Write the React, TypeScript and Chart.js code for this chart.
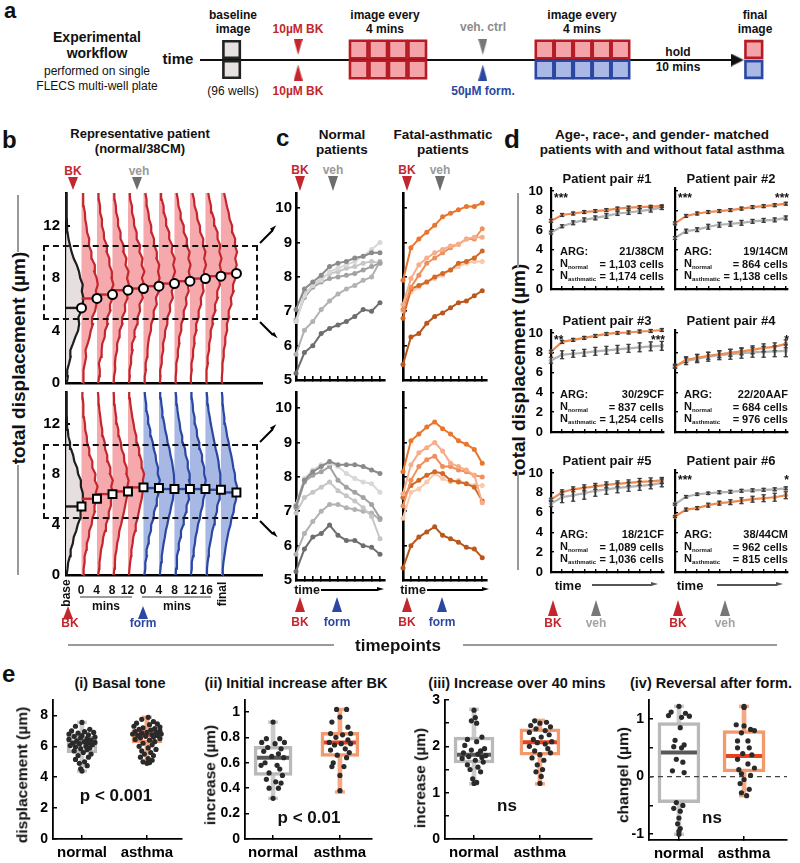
import React, { useEffect, useRef } from "react";
import { Chart, registerables } from "chart.js";

Chart.register(...registerables);

const FONT = 'Arial, "Liberation Sans", Helvetica, sans-serif';
Chart.defaults.font.family = FONT;
Chart.defaults.color = "#111";

/* ======================= DATA ======================= */

// (a) workflow schedule, in imaging-slot units along the plate timeline
const TIMELINE_SPAN = [0, 27.3];
const TIMELINE_TIP = [27.55];
const BASELINE_SLOTS = [1.62];
const BK_SLOTS = [5.03];
const BK_IMAGE_SLOTS = [8.14, 9.14, 10.14, 11.14];
const TREAT_SLOTS = [14.5];
const TREAT_IMAGE_SLOTS = [17.67, 18.64, 19.62, 20.59, 21.56];
const FINAL_SLOTS = [28.4];
const WELL_ROWS = [1.05, -0.95];
const MARKER_ROWS = [1.3, -1.25];

// (b) single patient displacement histograms (µm bins) and means per timepoint
const HIST_BINS = [0, 0.5, 1, 1.5, 2, 2.5, 3, 3.5, 4, 4.5, 5, 5.5, 6, 6.5, 7, 7.5, 8, 8.5, 9, 9.5, 10, 10.5, 11, 11.5, 12, 12.5, 13, 13.5, 14, 14.5];
const B_TOP_MEANS = [5.73, 6.45, 6.75, 7.08, 7.21, 7.39, 7.59, 7.77, 7.97, 8.15, 8.36];
const B_BOT_MEANS = [5.43, 6.04, 6.41, 6.62, 6.94, 6.89, 6.81, 6.81, 6.81, 6.75, 6.54];
const B_TOP_PHASES = ["base", "bk", "bk", "bk", "bk", "bk", "bk", "bk", "bk", "bk", "bk"];
const B_BOT_PHASES = ["base", "bk", "bk", "bk", "bk", "form", "form", "form", "form", "form", "form"];
const B_TOP_HIST = [
  [0.05, 0.12, 0.08, 0.2, 0.3, 0.28, 0.45, 0.6, 0.78, 0.85, 0.8, 0.98, 1.08, 1.12, 1.02, 1.08, 0.92, 0.84, 0.7, 0.5, 0.36, 0.26, 0.16, 0.1, 0.07, 0.05, 0.03, 0.02, 0.02, 0.01],
  [0.1, 0.16, 0.1, 0.22, 0.3, 0.26, 0.4, 0.52, 0.6, 0.74, 0.68, 0.88, 0.96, 1.1, 0.92, 1.05, 0.98, 0.82, 0.86, 0.66, 0.64, 0.48, 0.5, 0.36, 0.32, 0.24, 0.22, 0.14, 0.12, 0.1],
  [0.08, 0.14, 0.18, 0.12, 0.26, 0.3, 0.34, 0.5, 0.52, 0.7, 0.66, 0.86, 0.84, 1.02, 0.9, 1.06, 0.94, 0.96, 0.8, 0.8, 0.62, 0.64, 0.46, 0.44, 0.32, 0.32, 0.2, 0.2, 0.12, 0.1],
  [0.08, 0.1, 0.18, 0.16, 0.2, 0.3, 0.3, 0.44, 0.46, 0.64, 0.62, 0.82, 0.8, 0.98, 0.86, 1.06, 0.94, 1.04, 0.84, 0.9, 0.7, 0.72, 0.52, 0.52, 0.36, 0.36, 0.24, 0.22, 0.14, 0.12],
  [0.06, 0.12, 0.1, 0.2, 0.2, 0.3, 0.26, 0.44, 0.42, 0.6, 0.62, 0.78, 0.74, 0.96, 0.86, 1.04, 0.9, 1.06, 0.88, 0.94, 0.74, 0.78, 0.56, 0.56, 0.4, 0.38, 0.26, 0.26, 0.14, 0.12],
  [0.06, 0.08, 0.16, 0.14, 0.24, 0.26, 0.3, 0.36, 0.48, 0.5, 0.66, 0.66, 0.86, 0.8, 1.0, 0.9, 1.04, 0.94, 1.02, 0.84, 0.86, 0.7, 0.68, 0.52, 0.5, 0.36, 0.32, 0.22, 0.2, 0.12],
  [0.06, 0.1, 0.08, 0.18, 0.18, 0.28, 0.26, 0.38, 0.4, 0.54, 0.54, 0.72, 0.7, 0.9, 0.82, 1.0, 0.9, 1.04, 0.92, 1.02, 0.82, 0.86, 0.66, 0.66, 0.48, 0.46, 0.32, 0.3, 0.18, 0.14],
  [0.05, 0.08, 0.12, 0.12, 0.22, 0.22, 0.32, 0.3, 0.44, 0.44, 0.6, 0.6, 0.78, 0.74, 0.92, 0.86, 1.02, 0.92, 1.04, 0.9, 0.98, 0.78, 0.8, 0.6, 0.6, 0.42, 0.4, 0.26, 0.22, 0.14],
  [0.05, 0.06, 0.12, 0.1, 0.2, 0.2, 0.3, 0.28, 0.42, 0.4, 0.56, 0.56, 0.72, 0.7, 0.88, 0.82, 0.98, 0.9, 1.04, 0.92, 1.0, 0.84, 0.86, 0.66, 0.64, 0.48, 0.44, 0.3, 0.26, 0.16],
  [0.04, 0.08, 0.06, 0.16, 0.14, 0.24, 0.24, 0.34, 0.34, 0.48, 0.46, 0.64, 0.62, 0.8, 0.76, 0.94, 0.86, 1.02, 0.92, 1.04, 0.9, 0.96, 0.78, 0.78, 0.6, 0.56, 0.42, 0.36, 0.26, 0.18],
  [0.04, 0.06, 0.1, 0.1, 0.18, 0.18, 0.28, 0.28, 0.4, 0.38, 0.52, 0.5, 0.68, 0.64, 0.82, 0.78, 0.94, 0.88, 1.02, 0.92, 1.04, 0.9, 0.92, 0.74, 0.72, 0.56, 0.5, 0.38, 0.3, 0.2],
];
const B_BOT_HIST = [
  [0.04, 0.1, 0.14, 0.26, 0.3, 0.44, 0.5, 0.66, 0.76, 0.92, 0.94, 1.12, 1.1, 1.08, 0.96, 0.96, 0.78, 0.72, 0.54, 0.46, 0.32, 0.26, 0.15, 0.12, 0.07, 0.05, 0.04, 0.03, 0.02, 0.01],
  [0.1, 0.14, 0.2, 0.2, 0.32, 0.34, 0.48, 0.5, 0.66, 0.7, 0.86, 0.84, 1.02, 0.92, 1.04, 0.86, 0.9, 0.7, 0.7, 0.52, 0.5, 0.36, 0.34, 0.24, 0.22, 0.16, 0.14, 0.1, 0.08, 0.06],
  [0.08, 0.14, 0.16, 0.22, 0.26, 0.36, 0.4, 0.52, 0.58, 0.72, 0.76, 0.9, 0.9, 1.04, 0.92, 1.02, 0.84, 0.86, 0.7, 0.66, 0.52, 0.5, 0.38, 0.34, 0.26, 0.22, 0.16, 0.12, 0.1, 0.06],
  [0.08, 0.12, 0.16, 0.18, 0.26, 0.3, 0.4, 0.44, 0.56, 0.64, 0.74, 0.82, 0.9, 0.98, 0.96, 1.04, 0.9, 0.92, 0.76, 0.74, 0.58, 0.54, 0.42, 0.38, 0.28, 0.24, 0.18, 0.14, 0.1, 0.08],
  [0.06, 0.1, 0.14, 0.2, 0.22, 0.3, 0.34, 0.46, 0.5, 0.62, 0.7, 0.78, 0.88, 0.94, 1.0, 0.96, 1.04, 0.9, 0.88, 0.76, 0.72, 0.58, 0.54, 0.42, 0.36, 0.28, 0.22, 0.16, 0.12, 0.08],
  [0.06, 0.12, 0.12, 0.22, 0.2, 0.32, 0.34, 0.48, 0.5, 0.66, 0.68, 0.82, 0.86, 0.98, 0.94, 1.06, 0.92, 0.94, 0.82, 0.78, 0.66, 0.6, 0.48, 0.44, 0.32, 0.3, 0.2, 0.18, 0.12, 0.08],
  [0.06, 0.1, 0.14, 0.18, 0.24, 0.3, 0.38, 0.44, 0.54, 0.62, 0.72, 0.8, 0.9, 0.94, 1.0, 0.98, 0.96, 0.9, 0.84, 0.74, 0.68, 0.56, 0.5, 0.4, 0.34, 0.26, 0.22, 0.16, 0.12, 0.08],
  [0.08, 0.1, 0.16, 0.16, 0.26, 0.28, 0.4, 0.42, 0.58, 0.6, 0.76, 0.78, 0.94, 0.9, 1.04, 0.94, 0.98, 0.86, 0.86, 0.72, 0.68, 0.54, 0.5, 0.38, 0.34, 0.26, 0.2, 0.16, 0.12, 0.08],
  [0.06, 0.12, 0.12, 0.2, 0.24, 0.32, 0.36, 0.46, 0.52, 0.64, 0.7, 0.82, 0.86, 0.98, 0.94, 1.02, 0.92, 0.92, 0.8, 0.78, 0.64, 0.6, 0.46, 0.44, 0.32, 0.3, 0.2, 0.18, 0.12, 0.1],
  [0.08, 0.1, 0.14, 0.2, 0.22, 0.3, 0.38, 0.44, 0.56, 0.6, 0.74, 0.76, 0.9, 0.92, 1.0, 0.96, 0.96, 0.88, 0.84, 0.76, 0.66, 0.58, 0.5, 0.42, 0.34, 0.28, 0.2, 0.16, 0.12, 0.08],
  [0.08, 0.12, 0.16, 0.22, 0.28, 0.34, 0.42, 0.5, 0.62, 0.68, 0.82, 0.86, 0.98, 0.96, 1.04, 0.92, 0.9, 0.8, 0.74, 0.66, 0.56, 0.5, 0.4, 0.34, 0.26, 0.22, 0.16, 0.12, 0.1, 0.06],
];
const B_TICK_LABELS_BK = ["0", "4", "8", "12"];
const B_TICK_LABELS_TREAT = ["0", "4", "8", "12", "16"];

// (c) per-patient mean displacement over 11 timepoints
const TIMEPOINTS = [0, 1, 2, 3, 4, 5, 6, 7, 8, 9, 10];
const C_NORMAL_VEH = [
  [7.05, 7.65, 7.85, 8.05, 8.3, 8.4, 8.45, 8.55, 8.6, 8.7, 8.7],
  [6.7, 7.45, 7.75, 7.9, 8.15, 8.25, 8.35, 8.45, 8.6, 8.8, 9.0],
  [6.75, 7.4, 7.7, 7.85, 7.95, 8.0, 8.05, 8.1, 8.2, 8.3, 8.4],
  [6.7, 7.5, 7.75, 7.95, 8.1, 8.15, 8.25, 8.3, 8.4, 8.45, 8.4],
  [5.75, 6.45, 6.7, 7.05, 7.3, 7.5, 7.65, 7.75, 7.9, 8.0, 8.45],
  [5.2, 5.8, 6.0, 6.35, 6.5, 6.6, 6.7, 6.85, 7.05, 7.0, 7.25],
];
const C_ASTH_VEH = [
  [7.9, 8.85, 9.1, 9.3, 9.5, 9.75, 9.85, 9.95, 10.05, 10.05, 10.15],
  [7.2, 7.95, 8.35, 8.55, 8.7, 8.8, 8.9, 8.95, 9.1, 9.15, 9.15],
  [7.05, 7.7, 8.05, 8.4, 8.55, 8.7, 8.85, 8.95, 9.1, 9.1, 9.4],
  [6.8, 7.65, 7.75, 7.85, 8.0, 8.1, 8.2, 8.4, 8.45, 8.55, 8.75],
  [7.0, 7.55, 7.7, 7.85, 7.95, 8.05, 8.2, 8.3, 8.4, 8.45, 8.45],
  [5.45, 6.25, 6.35, 6.65, 6.85, 6.95, 7.1, 7.25, 7.3, 7.45, 7.6],
];
const C_NORMAL_FORM = [
  [7.15, 7.9, 8.15, 8.3, 8.45, 8.35, 8.35, 8.35, 8.3, 8.2, 8.1],
  [7.2, 7.95, 8.2, 8.35, 8.4, 8.3, 8.1, 7.95, 7.85, 7.8, 7.55],
  [7.1, 7.85, 8.05, 8.15, 8.3, 7.9, 7.7, 7.55, 7.4, 7.2, 6.8],
  [6.95, 7.4, 7.55, 7.7, 7.85, 7.6, 7.45, 7.3, 7.1, 6.85, 6.2],
  [5.75, 6.35, 6.7, 7.0, 7.2, 7.2, 7.1, 7.05, 7.0, 6.95, 6.75],
  [5.25, 5.9, 6.25, 6.35, 6.6, 6.3, 6.15, 6.15, 6.0, 5.95, 5.75],
];
const C_ASTH_FORM = [
  [8.15, 9.05, 9.25, 9.45, 9.6, 9.4, 9.25, 9.05, 8.95, 8.8, 8.4],
  [7.5, 8.35, 8.7, 8.85, 9.0, 8.75, 8.4, 8.3, 8.2, 8.05, 7.25],
  [7.15, 7.9, 8.3, 8.5, 8.6, 8.3, 8.3, 8.2, 8.15, 8.05, 8.0],
  [7.4, 7.75, 7.9, 8.05, 8.15, 8.1, 7.9, 7.85, 7.8, 7.7, 7.3],
  [6.8, 7.55, 7.65, 7.85, 8.1, 7.95, 7.85, 7.9, 7.8, 7.75, 7.75],
  [5.35, 6.0, 6.25, 6.4, 6.55, 6.3, 6.2, 6.1, 5.95, 5.9, 5.65],
];

// (d) matched pairs: mean ± error over time
const PAIR_NORMAL = [
  [5.75, 6.4, 6.75, 7.05, 7.25, 7.45, 7.7, 7.8, 7.95, 8.1, 8.3],
  [5.2, 5.9, 6.05, 6.35, 6.55, 6.65, 6.75, 6.9, 7.0, 7.05, 7.25],
  [7.25, 7.8, 7.9, 8.0, 8.15, 8.25, 8.35, 8.45, 8.55, 8.65, 8.7],
  [6.65, 7.15, 7.4, 7.6, 7.75, 7.85, 7.95, 8.05, 8.1, 8.15, 8.2],
  [6.9, 7.55, 7.75, 7.95, 8.2, 8.35, 8.5, 8.6, 8.7, 8.8, 9.0],
  [6.85, 7.6, 7.85, 7.95, 8.05, 8.1, 8.2, 8.25, 8.3, 8.35, 8.45],
];
const PAIR_NORMAL_ERR = [
  [0.15, 0.15, 0.2, 0.2, 0.2, 0.25, 0.2, 0.2, 0.25, 0.25, 0.2],
  [0.15, 0.2, 0.2, 0.25, 0.25, 0.25, 0.25, 0.2, 0.2, 0.2, 0.2],
  [0.3, 0.4, 0.35, 0.35, 0.4, 0.4, 0.4, 0.4, 0.45, 0.45, 0.45],
  [0.2, 0.35, 0.4, 0.45, 0.45, 0.5, 0.5, 0.5, 0.55, 0.55, 0.6],
  [0.3, 0.55, 0.6, 0.6, 0.55, 0.5, 0.5, 0.45, 0.45, 0.4, 0.4],
  [0.1, 0.12, 0.12, 0.12, 0.15, 0.15, 0.15, 0.15, 0.15, 0.15, 0.15],
];
const PAIR_ASTH = [
  [6.95, 7.55, 7.7, 7.85, 7.95, 8.05, 8.2, 8.3, 8.35, 8.4, 8.45],
  [6.7, 7.45, 7.7, 7.85, 7.95, 8.05, 8.2, 8.35, 8.45, 8.55, 8.7],
  [8.1, 9.1, 9.3, 9.5, 9.7, 9.9, 10.0, 10.05, 10.15, 10.2, 10.3],
  [6.6, 7.3, 7.5, 7.7, 7.85, 8.0, 8.15, 8.3, 8.5, 8.6, 8.9],
  [7.3, 8.05, 8.35, 8.5, 8.65, 8.8, 8.9, 9.0, 9.1, 9.15, 9.25],
  [5.6, 6.3, 6.45, 6.75, 6.95, 7.05, 7.2, 7.35, 7.45, 7.55, 7.75],
];
const PAIR_ASTH_ERR = [
  [0.15, 0.15, 0.15, 0.15, 0.15, 0.15, 0.15, 0.15, 0.15, 0.12, 0.12],
  [0.15, 0.15, 0.15, 0.15, 0.15, 0.15, 0.15, 0.15, 0.15, 0.15, 0.15],
  [0.15, 0.15, 0.15, 0.15, 0.15, 0.15, 0.15, 0.15, 0.15, 0.15, 0.15],
  [0.15, 0.3, 0.35, 0.35, 0.35, 0.35, 0.35, 0.4, 0.4, 0.4, 0.4],
  [0.15, 0.25, 0.25, 0.3, 0.3, 0.3, 0.3, 0.3, 0.35, 0.35, 0.3],
  [0.1, 0.15, 0.15, 0.2, 0.2, 0.25, 0.3, 0.3, 0.35, 0.4, 0.35],
];
const PAIR_ARG = ["21/38CM", "19/14CM", "30/29CF", "22/20AAF", "18/21CF", "38/44CM"];
const PAIR_N_NORMAL = ["1,103", "864", "837", "684", "1,089", "962"];
const PAIR_N_ASTH = ["1,174", "1,138", "1,254", "976", "1,036", "815"];
const PAIR_STARS_LEFT = ["***", "***", "**", "", "", "***"];
const PAIR_STARS_RIGHT = ["", "***", "***", "*", "", "*"];

// (e) summary statistics: [whisker low, q1, median, q3, whisker high]
const E_CATEGORIES = ["normal", "asthma"];
const BASAL_NORMAL_STATS = [4.4, 5.58, 6.25, 6.65, 7.55];
const BASAL_ASTH_STATS = [4.95, 6.22, 6.75, 7.08, 7.88];
const INIT_NORMAL_STATS = [0.32, 0.5, 0.64, 0.73, 0.92];
const INIT_ASTH_STATS = [0.37, 0.65, 0.76, 0.84, 1.02];
const INC_NORMAL_STATS = [1.19, 1.64, 1.82, 2.2, 2.8];
const INC_ASTH_STATS = [1.19, 1.81, 2.09, 2.38, 2.56];
const REV_NORMAL_STATS = [-1.0, -0.45, 0.42, 0.94, 1.22];
const REV_ASTH_STATS = [-0.33, 0.08, 0.36, 0.8, 1.22];

const BASAL_NORMAL = [7.55, 7.3, 7.1, 7.0, 6.95, 6.9, 6.85, 6.8, 6.75, 6.7, 6.65, 6.6, 6.55, 6.5, 6.45, 6.4, 6.35, 6.3, 6.25, 6.2, 6.2, 6.15, 6.1, 6.05, 6.0, 5.95, 5.9, 5.85, 5.8, 5.7, 5.6, 5.5, 5.4, 5.3, 5.15, 5.0, 4.9, 4.75, 4.55, 4.4];
const BASAL_NORMAL_DX = [0, -0.1, 0.12, -0.16, 0.04, 0.18, -0.06, -0.2, 0.1, 0.0, -0.12, 0.2, -0.02, 0.08, -0.2, 0.14, -0.08, 0.04, 0.2, -0.14, 0.1, -0.04, 0.16, -0.18, 0.06, -0.1, 0.12, -0.02, 0.08, -0.12, 0.02, 0.14, -0.06, 0.1, -0.1, 0.04, -0.04, 0.08, -0.02, 0];
const BASAL_ASTH = [7.88, 7.75, 7.6, 7.5, 7.45, 7.4, 7.3, 7.25, 7.2, 7.15, 7.1, 7.05, 7.0, 6.95, 6.9, 6.9, 6.85, 6.8, 6.8, 6.75, 6.7, 6.7, 6.65, 6.6, 6.55, 6.5, 6.45, 6.4, 6.3, 6.2, 6.1, 6.0, 5.9, 5.8, 5.7, 5.6, 5.5, 5.4, 5.3, 5.2, 5.1, 5.0, 4.95, 4.9];
const BASAL_ASTH_DX = [0.02, -0.08, 0.1, -0.16, 0.16, 0.04, -0.2, 0.2, -0.06, 0.12, -0.12, 0.06, 0.2, -0.18, 0.0, 0.14, -0.08, 0.22, -0.22, 0.08, -0.14, 0.16, -0.02, 0.1, -0.1, 0.2, -0.18, 0.04, 0.12, -0.06, 0.08, -0.12, 0.02, 0.14, -0.08, 0.06, -0.04, 0.1, -0.1, 0.02, 0.08, -0.06, 0.04, 0];
const INIT_NORMAL = [0.92, 0.79, 0.79, 0.76, 0.76, 0.75, 0.72, 0.71, 0.69, 0.67, 0.65, 0.64, 0.6, 0.58, 0.58, 0.55, 0.52, 0.5, 0.47, 0.45, 0.44, 0.4, 0.4, 0.32];
const INIT_NORMAL_DX = [0, -0.1, 0.1, -0.17, 0.17, 0.03, -0.08, 0.12, -0.14, 0.08, -0.02, 0.16, -0.12, 0.06, -0.18, 0.1, -0.06, 0.14, -0.1, 0.04, 0.12, -0.06, 0.08, 0];
const INIT_ASTH = [1.02, 1.02, 0.96, 0.92, 0.88, 0.83, 0.83, 0.82, 0.8, 0.78, 0.76, 0.75, 0.75, 0.74, 0.71, 0.7, 0.68, 0.66, 0.64, 0.6, 0.57, 0.57, 0.5, 0.38];
const INIT_ASTH_DX = [-0.05, 0.1, 0.0, -0.12, 0.12, -0.14, 0.16, 0.04, -0.06, 0.12, -0.16, 0.02, 0.16, -0.08, 0.08, -0.14, 0.14, -0.04, 0.1, -0.1, -0.12, 0.06, 0.0, 0];
const INC_NORMAL = [2.78, 2.62, 2.55, 2.5, 2.2, 2.15, 2.1, 2.02, 1.95, 1.92, 1.9, 1.86, 1.83, 1.8, 1.78, 1.76, 1.74, 1.7, 1.66, 1.6, 1.55, 1.5, 1.45, 1.3, 1.22, 1.2];
const INC_NORMAL_DX = [0, 0.02, -0.04, 0.04, 0.12, -0.1, 0.04, -0.14, 0.16, -0.04, 0.1, -0.16, 0.06, 0.18, -0.08, 0.12, -0.18, 0.02, 0.14, -0.1, 0.06, -0.06, 0.1, -0.02, 0.04, 0];
const INC_ASTH = [2.55, 2.52, 2.5, 2.45, 2.42, 2.38, 2.34, 2.3, 2.25, 2.2, 2.15, 2.1, 2.08, 2.05, 2.0, 1.95, 1.9, 1.86, 1.82, 1.75, 1.7, 1.6, 1.5, 1.45, 1.35, 1.2];
const INC_ASTH_DX = [-0.08, 0.1, 0.0, -0.14, 0.16, -0.06, 0.08, -0.16, 0.14, 0.02, -0.1, 0.18, -0.04, 0.08, -0.16, 0.12, -0.08, 0.16, 0.0, -0.12, 0.06, -0.04, 0.04, -0.06, 0.02, 0];
const REV_NORMAL = [1.22, 1.12, 1.1, 1.06, 1.05, 1.03, 0.85, 0.63, 0.55, 0.52, 0.5, 0.3, 0.25, 0.1, 0.07, -0.45, -0.5, -0.55, -0.6, -0.72, -0.82, -0.9, -0.95, -1.0];
const REV_NORMAL_DX = [0, -0.12, 0.1, -0.16, 0.16, 0.04, 0.02, -0.06, 0.08, -0.08, 0.04, -0.04, 0.06, -0.1, 0.08, -0.04, 0.06, -0.08, 0.02, 0.0, -0.02, 0.02, 0.0, 0];
const REV_ASTH = [1.22, 1.2, 0.9, 0.88, 0.82, 0.8, 0.76, 0.62, 0.62, 0.5, 0.5, 0.4, 0.38, 0.3, 0.22, 0.15, 0.12, 0.05, 0.02, -0.05, -0.12, -0.22, -0.28, -0.33];
const REV_ASTH_DX = [0, 0.0, -0.12, 0.0, 0.1, 0.16, -0.04, -0.1, 0.06, -0.1, 0.08, -0.02, 0.12, -0.1, 0.06, 0.16, -0.08, -0.04, 0.1, 0.0, -0.06, 0.08, -0.04, 0.04];

/* ======================= STYLES ======================= */
const RED = "#c4262e";
const RED_DARK = "#b51c25";
const PINK = "#f4a4a9";
const BLUE = "#2b47a2";
const LIGHTBLUE = "#a9b8e4";
const PHASE_STYLE: any = {
  base: { line: "#1e1e1e", fill: "#e6dfdf" },
  bk: { line: RED, fill: "#f6a9ac" },
  form: { line: BLUE, fill: "#a8b8e5" },
};
const NORMAL_SHADES = ["#8a8a8a", "#d8d8d8", "#a2a2a2", "#c6c6c6", "#b2b2b2", "#6e6e6e"];
const ASTH_SHADES = ["#e8762e", "#f6ad88", "#f08f5c", "#d26a26", "#f9c9ae", "#b9581c"];
const E_STYLE = [
  { box: "#b9b9b9", whisk: "#cbcbcb", med: "#585858" },
  { box: "#f4996b", whisk: "#f6a882", med: "#e5421d" },
];

type Box = { l: number; t: number; w: number; h: number };
type Rect = { l: number; t: number; r: number; b: number };

// canvas around a plot rectangle, with generous room above/below for tick-label padding
const MARGIN = 30;
function canvasFor(plot: Rect, left: number, right: number): Box {
  return { l: plot.l - left, t: plot.t - MARGIN, w: plot.r - plot.l + left + right, h: plot.b - plot.t + 2 * MARGIN };
}

const axisLine = (w = 2.5) => ({ display: true, color: "#000", width: w });
const inTicks = (len = 4, w = 1.5) => ({ display: true, drawOnChartArea: false, drawTicks: true, tickLength: -len, color: "#000", lineWidth: w });
const boldTicks = (size: number, pad: number, extra: any = {}) => ({ font: { size, weight: "bold" }, color: "#000", padding: pad, includeBounds: false, ...extra });

function baseConfig(type: string, canvas: Box, plot: Rect, datasets: any[], x: any, y: any) {
  const yw = plot.l - canvas.l;
  const xh = canvas.t + canvas.h - plot.b;
  return {
    type,
    data: { datasets },
    options: {
      responsive: false,
      animation: false,
      events: [],
      layout: { autoPadding: false, padding: { left: 0, top: plot.t - canvas.t, right: canvas.l + canvas.w - plot.r, bottom: 0 } },
      plugins: { legend: { display: false }, tooltip: { enabled: false } },
      datasets: { line: { clip: false }, bar: { clip: false } },
      scales: {
        x: { type: "linear", offset: false, ...x, grid: { offset: false, ...(x.grid || {}) }, afterFit: (s: any) => { s.height = xh; } },
        y: { type: "linear", ...y, afterFit: (s: any) => { s.width = yw; } },
      },
    },
  };
}

function triGlyph(color: string, w: number, h: number, dir: string) {
  const c = document.createElement("canvas");
  c.width = w;
  c.height = h;
  const g = c.getContext("2d")!;
  g.fillStyle = color;
  g.beginPath();
  if (dir === "down") { g.moveTo(0, 0); g.lineTo(w, 0); g.lineTo(w / 2, h); }
  else if (dir === "up") { g.moveTo(0, h); g.lineTo(w, h); g.lineTo(w / 2, 0); }
  else { g.moveTo(0, 0); g.lineTo(w, h / 2); g.lineTo(0, h); }
  g.closePath();
  g.fill();
  return c;
}

/* ---- (a) ---- */
const A_CANVAS: Box = { l: 185, t: 30, w: 600, h: 60 };
function makeWorkflow() {
  const sq = (xs: number[], rows: number[], line: string, fill: string, r = 12.4) => ({
    data: xs.flatMap((x) => rows.map((y) => ({ x, y }))), showLine: false, pointStyle: "rect",
    pointRadius: r, pointBackgroundColor: fill, pointBorderColor: line, pointBorderWidth: 2.6, order: 1,
  });
  const glyph = (xs: number[], y: number, img: any) => ({ data: xs.map((x) => ({ x, y })), showLine: false, pointStyle: img, pointRadius: 6, order: 0 });
  const ds = [
    { data: TIMELINE_SPAN.map((x) => ({ x, y: 0 })), borderColor: "#111", borderWidth: 2, pointRadius: 0, order: 5 },
    glyph(TIMELINE_TIP, 0, triGlyph("#111", 13, 13, "right")),
    sq(BASELINE_SLOTS, WELL_ROWS, "#222", "#e7e1e1", 11.6),
    sq(BK_IMAGE_SLOTS, WELL_ROWS, RED_DARK, PINK),
    sq(TREAT_IMAGE_SLOTS, [WELL_ROWS[0]], RED_DARK, PINK),
    sq(TREAT_IMAGE_SLOTS, [WELL_ROWS[1]], BLUE, LIGHTBLUE),
    sq(FINAL_SLOTS, [WELL_ROWS[0]], RED_DARK, PINK, 11.8),
    sq(FINAL_SLOTS, [WELL_ROWS[1]], BLUE, LIGHTBLUE, 11.8),
    glyph(BK_SLOTS, MARKER_ROWS[0], triGlyph(RED, 9, 16, "down")),
    glyph(BK_SLOTS, MARKER_ROWS[1], triGlyph(RED, 9, 16, "up")),
    glyph(TREAT_SLOTS, MARKER_ROWS[0], triGlyph("#777", 9, 16, "down")),
    glyph(TREAT_SLOTS, MARKER_ROWS[1], triGlyph(BLUE, 9, 16, "up")),
  ];
  const plot = { l: A_CANVAS.l, t: A_CANVAS.t, r: A_CANVAS.l + A_CANVAS.w, b: A_CANVAS.t + A_CANVAS.h };
  return baseConfig("line", A_CANVAS, plot, ds, { display: false, min: -0.77, max: 30 }, { display: false, min: -3, max: 3 });
}

/* ---- (b) ---- */
function makeRidge(hists: number[][], means: number[], phases: string[], marker: string, canvas: Box, plot: Rect) {
  const ds: any[] = [];
  const top = HIST_BINS[HIST_BINS.length - 1];
  hists.forEach((h, k) => {
    const st = PHASE_STYLE[phases[k]];
    const curve = h.map((d, i) => ({ x: k + d, y: HIST_BINS[i] }));
    ds.push({ data: [{ x: k, y: HIST_BINS[0] }, ...curve, { x: k, y: top }], fill: "shape", backgroundColor: st.fill, borderColor: "rgba(0,0,0,0)", borderWidth: 0, pointRadius: 0, order: 30 });
    ds.push({ data: curve, borderColor: st.line, borderWidth: 2.2, pointRadius: 0, fill: false, order: 20 });
  });
  means.forEach((m, k) => {
    ds.push({ data: [{ x: k, y: m }, { x: k + 1, y: m }], borderColor: PHASE_STYLE[phases[k]].line, borderWidth: 2.4, pointRadius: 0, order: 10 });
  });
  ds.push({
    data: means.map((m, k) => ({ x: k + 1, y: m })), showLine: false, pointStyle: marker,
    pointRadius: marker === "circle" ? 4.5 : 5.6, pointBackgroundColor: "#fff", pointBorderColor: "#000", pointBorderWidth: 2, order: 0,
  });
  return baseConfig("line", canvas, plot, ds,
    { min: 0, max: 12.65, ticks: { display: false }, grid: { display: false }, border: axisLine(2.6) },
    { min: 0, max: 14.5, ticks: boldTicks(15, 10, { stepSize: 4 }), grid: inTicks(4, 2), border: axisLine(2.6) });
}
const B_TOP_PLOT: Rect = { l: 66, t: 193, r: 262, b: 383 };
const B_BOT_PLOT: Rect = { l: 66, t: 392, r: 262, b: 575 };
const B_TOP_CANVAS = canvasFor(B_TOP_PLOT, 46, 8);
const B_BOT_CANVAS = canvasFor(B_BOT_PLOT, 46, 8);

/* ---- (c) ---- */
function makeTrend(series: number[][], colors: string[], canvas: Box, plot: Rect, yMax: number, labels: boolean) {
  const ds = series.map((s, i) => ({
    data: TIMEPOINTS.map((t, j) => ({ x: t, y: s[j] })),
    borderColor: colors[i], pointBackgroundColor: colors[i], borderWidth: 2, pointRadius: 2.5, pointBorderWidth: 0, order: i,
  }));
  return baseConfig("line", canvas, plot, ds,
    { min: 0, max: 10.6, ticks: { display: false, stepSize: 1, includeBounds: false }, grid: inTicks(4, 1.6), border: axisLine(2.6) },
    { min: 5, max: yMax, ticks: boldTicks(15, 8, { display: labels, stepSize: 1 }), grid: inTicks(4, 1.6), border: axisLine(2.6) });
}
const C_PLOTS: Rect[] = [
  { l: 296, t: 193, r: 385, b: 380 },
  { l: 403, t: 193, r: 487, b: 380 },
  { l: 296, t: 392, r: 385, b: 580 },
  { l: 403, t: 392, r: 487, b: 580 },
];

/* ---- (d) ---- */
function makePair(i: number, canvas: Box, plot: Rect, labels: boolean) {
  const series = [
    { v: PAIR_NORMAL[i], e: PAIR_NORMAL_ERR[i], c: "#b3b3b3", order: 3 },
    { v: PAIR_ASTH[i], e: PAIR_ASTH_ERR[i], c: "#f28a4e", order: 2 },
  ];
  const ds: any[] = [];
  series.forEach((s) => {
    ds.push({ type: "line", data: TIMEPOINTS.map((t, j) => ({ x: t, y: s.v[j] })), borderColor: s.c, borderWidth: 2.2, pointRadius: 2.3, pointBackgroundColor: s.c, pointBorderWidth: 0, order: s.order });
    ds.push({ type: "bar", data: TIMEPOINTS.map((t, j) => ({ x: t, y: [s.v[j] - s.e[j], s.v[j] + s.e[j]] })), backgroundColor: "#3a3a3a", barThickness: 1.2, grouped: false, order: 1 });
    ds.push({ type: "line", showLine: false, data: TIMEPOINTS.flatMap((t, j) => [{ x: t, y: s.v[j] - s.e[j] }, { x: t, y: s.v[j] + s.e[j] }]), pointStyle: "line", pointRadius: 2.2, pointBorderWidth: 1.2, pointBorderColor: "#3a3a3a", order: 1 });
  });
  return baseConfig("bar", canvas, plot, ds,
    { min: 0, max: 10.2, ticks: { display: false, stepSize: 1, includeBounds: false }, grid: inTicks(3, 1.4), border: axisLine(2.2) },
    { min: 0, max: 10.3, ticks: boldTicks(13, 11, { display: labels, stepSize: 2 }), grid: inTicks(3, 1.4), border: axisLine(2.2) });
}
const PAIR_COLS = [551, 675];
const PAIR_ROWS = [[188, 289], [330, 432], [470, 572]];

/* ---- (e) ---- */
function makeBox(groups: any[], canvas: Box, plot: Rect, xr: number[], yr: number[], yStep: number, fmt: (v: number) => string, boxW: number, zero: boolean) {
  const ds: any[] = [];
  ds.push({ type: "line", showLine: false, data: groups.flatMap((g, gi) => g.vals.map((v: number, j: number) => ({ x: gi + g.dx[j], y: v }))), pointRadius: 2.6, pointBackgroundColor: "#2a2a2a", pointBorderWidth: 0, order: 0 });
  ds.push({ type: "line", showLine: false, data: groups.map((g, gi) => ({ x: gi, y: g.stats[2] })), pointStyle: "line", pointRadius: boxW / 2 - 3, pointBorderWidth: 4, pointBorderColor: E_STYLE.map((s) => s.med), order: 1 });
  if (zero) ds.push({ type: "line", data: [{ x: xr[0], y: 0 }, { x: xr[1], y: 0 }], borderColor: "#444", borderWidth: 1.3, borderDash: [5, 4], pointRadius: 0, order: 1 });
  ds.push({ type: "bar", data: groups.map((g, gi) => ({ x: gi, y: [g.stats[1], g.stats[3]] })), backgroundColor: "#fff", borderColor: E_STYLE.map((s) => s.box), borderWidth: 3.5, borderSkipped: false, barThickness: boxW, grouped: false, order: 2 });
  ds.push({ type: "bar", data: groups.map((g, gi) => ({ x: gi, y: [g.stats[0], g.stats[4]] })), backgroundColor: E_STYLE.map((s) => s.whisk), barThickness: 4, grouped: false, order: 3 });
  ds.push({ type: "line", showLine: false, data: groups.flatMap((g, gi) => [{ x: gi, y: g.stats[0] }, { x: gi, y: g.stats[4] }]), pointStyle: "line", pointRadius: 5, pointBorderWidth: 3.5, pointBorderColor: [E_STYLE[0].whisk, E_STYLE[0].whisk, E_STYLE[1].whisk, E_STYLE[1].whisk], order: 3 });
  return baseConfig("bar", canvas, plot, ds,
    {
      min: xr[0], max: xr[1],
      afterBuildTicks: (s: any) => { s.ticks = E_CATEGORIES.map((_, i) => ({ value: i })); },
      ticks: { callback: (v: number) => E_CATEGORIES[v], font: { size: 15, weight: "bold" }, color: "#000", padding: 9, autoSkip: false, maxRotation: 0 },
      grid: inTicks(4, 1.5), border: axisLine(1.8),
    },
    { min: yr[0], max: yr[1], ticks: boldTicks(14, 9, { stepSize: yStep, callback: fmt }), grid: inTicks(4, 1.5), border: axisLine(1.8) });
}
const intOnly = (v: number) => (Math.abs(v - Math.round(v)) < 1e-6 ? String(Math.round(v)) : "");
const oneDec = (v: number) => String(Number(v.toFixed(1)));
const E_PLOTS: Rect[] = [
  { l: 53, t: 700, r: 182, b: 839 },
  { l: 245, t: 700, r: 372, b: 839 },
  { l: 445, t: 700, r: 592, b: 839 },
  { l: 649, t: 700, r: 787, b: 840 },
];

/* ======================= COMPONENTS ======================= */
function ChartCanvas({ box, make }: { box: Box; make: () => any }) {
  const ref = useRef<HTMLCanvasElement | null>(null);
  useEffect(() => {
    if (!ref.current) return;
    const chart = new Chart(ref.current, make());
    return () => chart.destroy();
  }, []);
  return <canvas ref={ref} width={box.w} height={box.h} style={{ position: "absolute", left: box.l, top: box.t, width: box.w, height: box.h }} />;
}

const Txt = ({ x, y, s = 12, c = "#111", w = 700, a = "c", rot = 0, children }: any) => {
  const tx = a === "c" ? "-50%" : a === "r" ? "-100%" : "0";
  return (
    <div style={{ position: "absolute", left: x, top: y, transform: `translate(${tx}, -50%) rotate(${rot}deg)`, fontSize: s, color: c, fontWeight: w, whiteSpace: "nowrap", lineHeight: 1, fontFamily: FONT }}>
      {children}
    </div>
  );
};

const Tri = ({ x, y, w = 10, h = 14, c, dir = "down" }: any) => (
  <div style={{
    position: "absolute", left: x - w / 2, top: y, width: 0, height: 0,
    borderLeft: `${w / 2}px solid transparent`, borderRight: `${w / 2}px solid transparent`,
    ...(dir === "down" ? { borderTop: `${h}px solid ${c}` } : { borderBottom: `${h}px solid ${c}` }),
  }} />
);

const HLine = ({ x1, x2, y, c = "#999", w = 1.5 }: any) => (
  <div style={{ position: "absolute", left: x1, top: y - w / 2, width: x2 - x1, height: w, background: c }} />
);
const VLine = ({ x, y1, y2, c = "#999", w = 1.5 }: any) => (
  <div style={{ position: "absolute", left: x - w / 2, top: y1, width: w, height: y2 - y1, background: c }} />
);

const Arrow = ({ x1, y1, x2, y2, c = "#000", w = 1.5, head = 7 }: any) => {
  const len = Math.hypot(x2 - x1, y2 - y1);
  const ang = (Math.atan2(y2 - y1, x2 - x1) * 180) / Math.PI;
  return (
    <div style={{ position: "absolute", left: x1, top: y1, width: len, height: 0, transform: `rotate(${ang}deg)`, transformOrigin: "0 0" }}>
      <div style={{ position: "absolute", left: 0, top: -w / 2, width: len - head + 1, height: w, background: c }} />
      <div style={{ position: "absolute", left: len - head, top: -head * 0.42, width: 0, height: 0, borderTop: `${head * 0.42}px solid transparent`, borderBottom: `${head * 0.42}px solid transparent`, borderLeft: `${head}px solid ${c}` }} />
    </div>
  );
};

const DashBox = ({ l, t, r, b }: any) => (
  <div style={{ position: "absolute", left: l, top: t, width: r - l, height: b - t, border: "2px dashed #111", boxSizing: "border-box" }} />
);

const Sub = ({ children }: any) => <span style={{ fontSize: 6, position: "relative", top: 2, fontWeight: 700 }}>{children}</span>;

const Note = ({ x, y, w, arg, nn, na }: any) => {
  const row = { display: "flex", justifyContent: "space-between", height: 12.5, alignItems: "center" } as any;
  return (
    <div style={{ position: "absolute", left: x, top: y, width: w, fontFamily: FONT, fontWeight: 700, fontSize: 11, lineHeight: "12.5px", color: "#111", whiteSpace: "nowrap" }}>
      <div style={row}><span>ARG:</span><span>{arg}</span></div>
      <div style={row}><span>N<Sub>normal</Sub></span><span>= {nn} cells</span></div>
      <div style={row}><span>N<Sub>asthmatic</Sub></span><span>= {na} cells</span></div>
    </div>
  );
};

/* ======================= APP ======================= */
export default function App() {
  const cBoxes = [canvasFor(C_PLOTS[0], 28, 6), canvasFor(C_PLOTS[1], 10, 6), canvasFor(C_PLOTS[2], 28, 6), canvasFor(C_PLOTS[3], 10, 6)];

  const pairCharts: any[] = [];
  const pairExtras: any[] = [];
  PAIR_ARG.forEach((arg, i) => {
    const col = i % 2;
    const row = Math.floor(i / 2);
    const pl = PAIR_COLS[col];
    const [pt, pb] = PAIR_ROWS[row];
    const plot: Rect = { l: pl, t: pt, r: pl + 113, b: pb };
    const canvas = canvasFor(plot, col === 0 ? 26 : 10, 5);
    pairCharts.push(<ChartCanvas key={`pair${i}`} box={canvas} make={() => makePair(i, canvas, plot, col === 0)} />);
    const cx = pl + 56;
    pairExtras.push(<Txt key={`pt${i}`} x={cx} y={pt - 10} s={13}>Patient pair #{i + 1}</Txt>);
    pairExtras.push(<Note key={`pn${i}`} x={pl + 9} y={pb - 44} w={plot.r - pl - 9} arg={arg} nn={PAIR_N_NORMAL[i]} na={PAIR_N_ASTH[i]} />);
    if (PAIR_STARS_LEFT[i]) pairExtras.push(<Txt key={`sl${i}`} x={pl + 3} y={pt + 10} s={12} a="l">{PAIR_STARS_LEFT[i]}</Txt>);
    if (PAIR_STARS_RIGHT[i]) pairExtras.push(<Txt key={`sr${i}`} x={plot.r + 1} y={pt + 10} s={12} a="r">{PAIR_STARS_RIGHT[i]}</Txt>);
  });

  const eGroups = {
    basal: [{ vals: BASAL_NORMAL, dx: BASAL_NORMAL_DX, stats: BASAL_NORMAL_STATS }, { vals: BASAL_ASTH, dx: BASAL_ASTH_DX, stats: BASAL_ASTH_STATS }],
    init: [{ vals: INIT_NORMAL, dx: INIT_NORMAL_DX, stats: INIT_NORMAL_STATS }, { vals: INIT_ASTH, dx: INIT_ASTH_DX, stats: INIT_ASTH_STATS }],
    inc: [{ vals: INC_NORMAL, dx: INC_NORMAL_DX, stats: INC_NORMAL_STATS }, { vals: INC_ASTH, dx: INC_ASTH_DX, stats: INC_ASTH_STATS }],
    rev: [{ vals: REV_NORMAL, dx: REV_NORMAL_DX, stats: REV_NORMAL_STATS }, { vals: REV_ASTH, dx: REV_ASTH_DX, stats: REV_ASTH_STATS }],
  };
  const eBoxes = [canvasFor(E_PLOTS[0], 33, 8), canvasFor(E_PLOTS[1], 40, 8), canvasFor(E_PLOTS[2], 35, 8), canvasFor(E_PLOTS[3], 39, 8)];

  return (
    <div style={{ position: "absolute", left: 0, top: 0, width: 800, height: 863, background: "#fff", overflow: "hidden", fontFamily: FONT }}>
      {/* ---------- a ---------- */}
      <Txt x={4} y={11} s={22} a="l">a</Txt>
      <Txt x={97} y={37} s={14}>Experimental</Txt>
      <Txt x={97} y={53} s={14}>workflow</Txt>
      <Txt x={97} y={71} s={12} w={400}>performed on single</Txt>
      <Txt x={97} y={86} s={12} w={400}>FLECS multi-well plate</Txt>
      <Txt x={178} y={58} s={15}>time</Txt>
      <Txt x={233} y={15} s={12}>baseline</Txt>
      <Txt x={233} y={29} s={12}>image</Txt>
      <Txt x={233} y={91} s={12} w={400}>(96 wells)</Txt>
      <Txt x={298} y={29} s={12} c={RED}>10µM BK</Txt>
      <Txt x={298} y={91} s={12} c={RED}>10µM BK</Txt>
      <Txt x={385} y={15} s={12}>image every</Txt>
      <Txt x={385} y={29} s={12}>4 mins</Txt>
      <Txt x={483} y={27} s={12} c="#8c8c8c">veh. ctrl</Txt>
      <Txt x={483} y={91} s={12} c={BLUE}>50µM form.</Txt>
      <Txt x={582} y={15} s={12}>image every</Txt>
      <Txt x={582} y={29} s={12}>4 mins</Txt>
      <Txt x={678} y={52} s={12}>hold</Txt>
      <Txt x={678} y={67} s={12}>10 mins</Txt>
      <Txt x={755} y={15} s={12}>final</Txt>
      <Txt x={755} y={29} s={12}>image</Txt>
      <ChartCanvas box={A_CANVAS} make={makeWorkflow} />

      {/* ---------- b ---------- */}
      <Txt x={2} y={140} s={24} a="l">b</Txt>
      <Txt x={140} y={133} s={13}>Representative patient</Txt>
      <Txt x={140} y={148} s={13}>(normal/38CM)</Txt>
      <Txt x={73} y={171} s={12} c={RED}>BK</Txt>
      <Tri x={73} y={177} w={10} h={13} c={RED} dir="down" />
      <Txt x={139} y={171} s={12} c="#9a9a9a">veh</Txt>
      <Tri x={137} y={177} w={10} h={13} c="#6d6d6d" dir="down" />
      <Txt x={18} y={358} s={19} rot={-90}>total displacement (µm)</Txt>
      <VLine x={18} y1={195} y2={252} />
      <VLine x={18} y1={465} y2={575} />
      <ChartCanvas box={B_TOP_CANVAS} make={() => makeRidge(B_TOP_HIST, B_TOP_MEANS, B_TOP_PHASES, "circle", B_TOP_CANVAS, B_TOP_PLOT)} />
      <ChartCanvas box={B_BOT_CANVAS} make={() => makeRidge(B_BOT_HIST, B_BOT_MEANS, B_BOT_PHASES, "rect", B_BOT_CANVAS, B_BOT_PLOT)} />
      <DashBox l={43} t={245} r={258} b={320} />
      <DashBox l={43} t={444} r={258} b={519} />
      <Arrow x1={260} y1={243} x2={277} y2={226} />
      <Arrow x1={260} y1={322} x2={277} y2={339} />
      <Arrow x1={260} y1={442} x2={277} y2={425} />
      <Arrow x1={260} y1={521} x2={277} y2={538} />
      <Txt x={66} y={593} s={12} rot={-90}>base</Txt>
      {B_TICK_LABELS_BK.map((t, i) => <Txt key={`bk${i}`} x={81 + i * 15.5} y={590} s={12}>{t}</Txt>)}
      {B_TICK_LABELS_TREAT.map((t, i) => <Txt key={`bt${i}`} x={143 + i * 15.8} y={590} s={12}>{t}</Txt>)}
      <Txt x={222} y={594} s={12} rot={-90}>final</Txt>
      <HLine x1={80} x2={132} y={597} c="#9a9a9a" />
      <HLine x1={142} x2={211} y={597} c="#9a9a9a" />
      <Txt x={106} y={606} s={12}>mins</Txt>
      <Txt x={177} y={606} s={12}>mins</Txt>
      <Tri x={68} y={606} w={10} h={13} c={RED} dir="up" />
      <Txt x={70} y={623} s={12} c={RED}>BK</Txt>
      <Tri x={143} y={606} w={10} h={13} c={BLUE} dir="up" />
      <Txt x={143} y={623} s={12} c={BLUE}>form</Txt>

      {/* ---------- c ---------- */}
      <Txt x={276} y={138} s={24} a="l">c</Txt>
      <Txt x={342} y={135} s={13.5}>Normal</Txt>
      <Txt x={342} y={150} s={13.5}>patients</Txt>
      <Txt x={443} y={135} s={13.5}>Fatal-asthmatic</Txt>
      <Txt x={443} y={150} s={13.5}>patients</Txt>
      <Txt x={300} y={170} s={12} c={RED}>BK</Txt>
      <Tri x={300} y={176} w={10} h={15} c={RED} />
      <Txt x={333} y={170} s={12} c="#9a9a9a">veh</Txt>
      <Tri x={333} y={176} w={10} h={15} c="#6d6d6d" />
      <Txt x={407} y={170} s={12} c={RED}>BK</Txt>
      <Tri x={407} y={176} w={10} h={15} c={RED} />
      <Txt x={440} y={170} s={12} c="#9a9a9a">veh</Txt>
      <Tri x={440} y={176} w={10} h={15} c="#6d6d6d" />
      <ChartCanvas box={cBoxes[0]} make={() => makeTrend(C_NORMAL_VEH, NORMAL_SHADES, cBoxes[0], C_PLOTS[0], 10.44, true)} />
      <ChartCanvas box={cBoxes[1]} make={() => makeTrend(C_ASTH_VEH, ASTH_SHADES, cBoxes[1], C_PLOTS[1], 10.44, false)} />
      <ChartCanvas box={cBoxes[2]} make={() => makeTrend(C_NORMAL_FORM, NORMAL_SHADES, cBoxes[2], C_PLOTS[2], 10.47, true)} />
      <ChartCanvas box={cBoxes[3]} make={() => makeTrend(C_ASTH_FORM, ASTH_SHADES, cBoxes[3], C_PLOTS[3], 10.47, false)} />
      <Txt x={307} y={590} s={12.5}>time</Txt>
      <Arrow x1={321} y1={590} x2={384} y2={590} w={1.6} />
      <Txt x={413} y={590} s={12.5}>time</Txt>
      <Arrow x1={427} y1={590} x2={489} y2={590} w={1.6} />
      <Tri x={300} y={597} w={10} h={15} c={RED} dir="up" />
      <Txt x={300} y={622} s={12} c={RED}>BK</Txt>
      <Tri x={337} y={597} w={10} h={15} c={BLUE} dir="up" />
      <Txt x={337} y={622} s={12} c={BLUE}>form</Txt>
      <Tri x={407} y={597} w={10} h={15} c={RED} dir="up" />
      <Txt x={407} y={622} s={12} c={RED}>BK</Txt>
      <Tri x={442} y={597} w={10} h={15} c={BLUE} dir="up" />
      <Txt x={442} y={622} s={12} c={BLUE}>form</Txt>

      {/* ---------- d ---------- */}
      <Txt x={504} y={139} s={26} a="l">d</Txt>
      <Txt x={662} y={135} s={13.5}>Age-, race-, and gender- matched</Txt>
      <Txt x={662} y={150} s={13.5}>patients  with and without fatal asthma</Txt>
      <Txt x={518} y={370} s={19} rot={-90}>total displacement (µm)</Txt>
      <VLine x={518} y1={193} y2={268} />
      <VLine x={518} y1={472} y2={570} />
      {pairCharts}
      {pairExtras}
      <Txt x={568} y={585} s={13}>time</Txt>
      <Arrow x1={592} y1={585} x2={658} y2={585} c="#555" w={1.6} />
      <Txt x={690} y={585} s={13}>time</Txt>
      <Arrow x1={717} y1={585} x2={783} y2={585} c="#555" w={1.6} />
      <Tri x={553} y={600} w={11} h={16} c={RED} dir="up" />
      <Txt x={553} y={623} s={12} c={RED}>BK</Txt>
      <Tri x={596} y={600} w={10} h={16} c="#777" dir="up" />
      <Txt x={596} y={623} s={12} c="#a3a3a3">veh</Txt>
      <Tri x={678} y={600} w={11} h={16} c={RED} dir="up" />
      <Txt x={678} y={623} s={12} c={RED}>BK</Txt>
      <Tri x={725} y={600} w={10} h={16} c="#777" dir="up" />
      <Txt x={725} y={623} s={12} c="#a3a3a3">veh</Txt>

      {/* ---------- timepoints ---------- */}
      <HLine x1={68} x2={334} y={645} c="#9a9a9a" />
      <Txt x={398} y={645} s={17}>timepoints</Txt>
      <HLine x1={463} x2={777} y={645} c="#9a9a9a" />

      {/* ---------- e ---------- */}
      <Txt x={2} y={674} s={24} a="l">e</Txt>
      <Txt x={120} y={683} s={14.5}>(i) Basal tone</Txt>
      <Txt x={296} y={683} s={14.5}>(ii) Initial increase after BK</Txt>
      <Txt x={517} y={683} s={14.5}>(iii) Increase over 40 mins</Txt>
      <Txt x={711} y={683} s={14.5}>(iv) Reversal after form.</Txt>
      <ChartCanvas box={eBoxes[0]} make={() => makeBox(eGroups.basal, eBoxes[0], E_PLOTS[0], [-0.446, 1.54], [0, 9], 2, (v) => String(v), 30, false)} />
      <ChartCanvas box={eBoxes[1]} make={() => makeBox(eGroups.init, eBoxes[1], E_PLOTS[1], [-0.42, 1.48], [0, 1.094], 0.2, oneDec, 38, false)} />
      <ChartCanvas box={eBoxes[2]} make={() => makeBox(eGroups.inc, eBoxes[2], E_PLOTS[2], [-0.44, 1.79], [0, 3], 0.5, intOnly, 40, false)} />
      <ChartCanvas box={eBoxes[3]} make={() => makeBox(eGroups.rev, eBoxes[3], E_PLOTS[3], [-0.46, 1.66], [-1.1, 1.33], 0.5, intOnly, 42, true)} />
      <Txt x={22} y={775} s={15.5} rot={-90}>displacement (µm)</Txt>
      <Txt x={210} y={775} s={15.5} rot={-90}>increase (µm)</Txt>
      <Txt x={420} y={778} s={15.5} rot={-90}>increase (µm)</Txt>
      <Txt x={623} y={775} s={15.5} rot={-90}>changel (µm)</Txt>
      <Txt x={116} y={795} s={17}>p &lt; 0.001</Txt>
      <Txt x={309} y={817} s={17}>p &lt; 0.01</Txt>
      <Txt x={507} y={805} s={17}>ns</Txt>
      <Txt x={712} y={817} s={17}>ns</Txt>
    </div>
  );
}
